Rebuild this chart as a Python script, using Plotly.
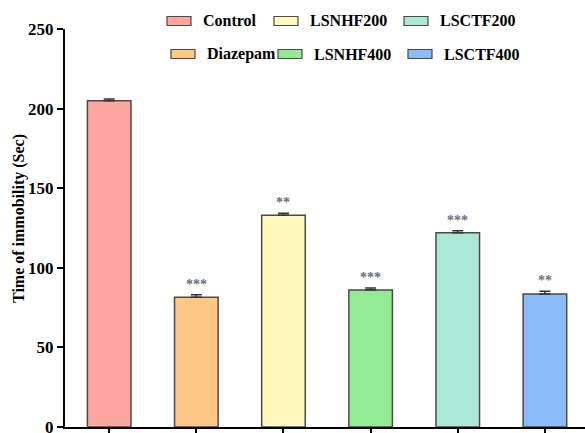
import plotly.graph_objects as go

# Forced swim test: immobility time per treatment group
groups = ["Control", "Diazepam", "LSNHF200", "LSNHF400", "LSCTF200", "LSCTF400"]
immobility = [205, 81.5, 133, 86, 122, 83.5]
sem = [1.0, 1.5, 1.3, 1.3, 1.2, 1.8]
significance = ["", "***", "**", "***", "***", "**"]
colors = ["#FFA6A0", "#FFC685", "#FFF9BE", "#93EB95", "#ABE8D8", "#8CBBF9"]
y_ticks = [0, 50, 100, 150, 200, 250]

SERIF = "Liberation Serif, Times New Roman, serif"
W, H = 585, 433
L, R, T, B = 65, 0, 29, 6
PW, PH = W - L - R, H - T - B

fig = go.Figure()
fig.add_trace(go.Bar(
    x=list(range(len(groups))),
    y=immobility,
    width=0.5,
    marker=dict(color=colors, line=dict(color="#4a4a4a", width=1.5)),
    error_y=dict(type="data", array=sem, visible=True, color="#333333",
                 thickness=1.5, width=5.5, symmetric=False, arrayminus=[0] * len(sem)),
    showlegend=False,
    hoverinfo="skip",
))

# significance markers above the error caps
for i, (v, e, s) in enumerate(zip(immobility, sem, significance)):
    if s:
        fig.add_annotation(x=i, y=v + e, text="<b>%s</b>" % s, showarrow=False,
                           yanchor="bottom", yshift=1,
                           font=dict(family=SERIF, size=14, color="#68707f"))

# legend: two rows, three columns (column-wise order)
legend_cols = [(167, 203), (274, 310), (404, 440)]
legend_rows = [21, 54]
for idx, name in enumerate(groups):
    col, row = idx // 2, idx % 2
    sx, tx = legend_cols[col]
    if row == 1:
        sx += 4
        tx += 4
    yc = legend_rows[row]
    fig.add_shape(type="rect", xref="paper", yref="paper",
                  x0=(sx - L) / PW, x1=(sx + 24 - L) / PW,
                  y0=(H - B - (yc + 4.5)) / PH, y1=(H - B - (yc - 4.5)) / PH,
                  fillcolor=colors[idx], line=dict(color="#4a4a4a", width=1.2))
    fig.add_annotation(xref="paper", yref="paper", x=(tx - L) / PW,
                       y=(H - B - yc) / PH, text="<b>%s</b>" % name, showarrow=False,
                       xanchor="left", yanchor="middle", xshift=-2,
                       font=dict(family=SERIF, size=16, color="#000000"))

# y-axis title
fig.add_annotation(xref="paper", yref="paper", x=(19 - L) / PW, y=(H - B - 219) / PH,
                   text="<b>Time of immobility (Sec)</b>", showarrow=False,
                   textangle=-90, xanchor="center", yanchor="middle",
                   font=dict(family=SERIF, size=16, color="black"))

fig.update_layout(
    width=W, height=H,
    margin=dict(l=L, r=R, t=T, b=B),
    paper_bgcolor="white", plot_bgcolor="white",
    xaxis=dict(range=[-0.507, 5.46], showgrid=False, zeroline=False,
               showline=True, linecolor="black", linewidth=2, automargin=False,
               tickmode="array", tickvals=list(range(len(groups))),
               showticklabels=False, ticks="outside", ticklen=7, tickwidth=2,
               tickcolor="black"),
    yaxis=dict(range=[0, 250], showgrid=False, zeroline=False,
               showline=True, linecolor="black", linewidth=2, automargin=False,
               tickmode="array", tickvals=y_ticks,
               ticktext=["<b>%d</b>" % t for t in y_ticks],
               ticks="outside", ticklen=6, tickwidth=2, tickcolor="black",
               ticklabeloverflow="allow",
               tickfont=dict(family=SERIF, size=17, color="black")),
)

fig.write_html("out.html")
